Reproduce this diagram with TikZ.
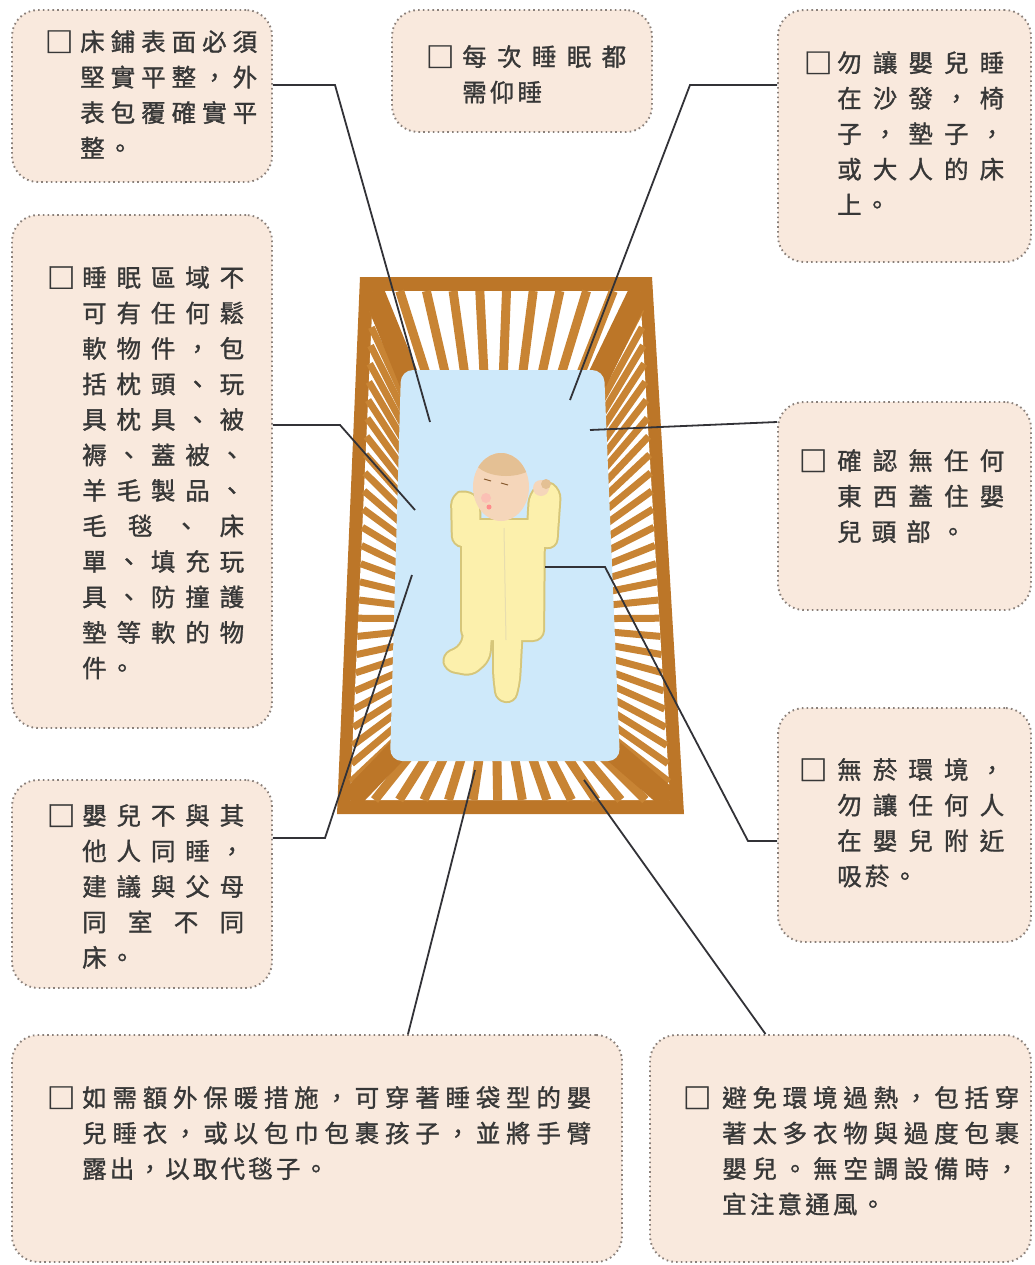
\documentclass[tikz,border=0pt]{standalone}
\usepackage{fontspec}
\usepackage{graphicx}
\newfontfamily\cjk[LetterSpace=13,FakeBold=1.2]{Noto Sans CJK TC}
\usetikzlibrary{calc}
\definecolor{wood}{RGB}{200,132,52}
\definecolor{rail}{RGB}{188,118,40}
\definecolor{sheet}{RGB}{206,233,250}
\definecolor{suit}{RGB}{252,240,172}
\definecolor{suitline}{RGB}{214,198,122}
\definecolor{skin}{RGB}{245,214,186}
\definecolor{hair}{RGB}{228,192,148}
\definecolor{peach}{RGB}{249,233,221}
\definecolor{dots}{RGB}{138,128,122}
\definecolor{ink}{RGB}{55,55,55}
\definecolor{leadc}{RGB}{50,50,55}
\newlength\jwidth
\newcommand\jl[2][\jwidth]{\makebox[#1][s]{#2}}
\newcommand\chkbox[1][7pt]{\llap{\raisebox{-1.5pt}{\scalebox{1.15}{□}}\hspace{#1}}}

\begin{document}
\begin{tikzpicture}[x=1pt,y=-1pt,
card/.style={draw=dots,dash pattern=on 1.6pt off 3.2pt,line width=1.9pt,fill=peach,rounded corners=26pt,inner sep=0pt},
txt/.style={font=\cjk\fontsize{24.5}{35.5}\selectfont,text=ink,align=left,inner sep=0pt,anchor=north west,execute at begin node={\global\jwidth=#1pt}},
lead/.style={draw=leadc,line width=1.8pt},
slat/.style={draw=wood,line width=9pt},
sideslat/.style={draw=wood,line width=7pt},
post/.style={draw=rail,line width=22pt},
suitedge/.style={draw=suitline,line width=4pt,fill=suitline},
suitfill/.style={fill=suit}]
\useasboundingbox (0,0) rectangle (1034,1265);
\fill[white] (0,0) rectangle (1034,1265);

\node[card,minimum width=260pt,minimum height=172pt] (flat) at (142,96) {};
\node[card,minimum width=260pt,minimum height=122pt] (back) at (522,71) {};
\node[card,minimum width=253pt,minimum height=252pt] (sofa) at (904.5,136) {};
\node[card,minimum width=260pt,minimum height=513pt] (soft) at (142,471.5) {};
\node[card,minimum width=253pt,minimum height=208pt] (face) at (904.5,506) {};
\node[card,minimum width=260pt,minimum height=208pt] (share) at (142,884) {};
\node[card,minimum width=253pt,minimum height=234pt] (smoke) at (904.5,825) {};
\node[card,minimum width=610pt,minimum height=227pt] (warm) at (317,1148.5) {};
\node[card,minimum width=381pt,minimum height=227pt] (heat) at (840.5,1148.5) {};

% crib
\fill[rail] (360,277) -- (652,277) -- (684,814) -- (337,814) -- cycle;
\fill[white] (373,291) -- (640,291) -- (670,800) -- (350,800) -- cycle;
\coordinate (ra) at (373,291);
\coordinate (rb) at (640,291);
\coordinate (rc) at (670,800);
\coordinate (rd) at (350,800);
\coordinate (fa) at (410,382);
\coordinate (fb) at (596,382);
\coordinate (fc) at (612,750);
\coordinate (fd) at (398,750);
\foreach \i in {1,...,9}
  \draw[slat] ($(ra)!\i/10!(rb)$) -- ($(fa)!\i/10!(fb)$);
\foreach \i in {1,...,27} {
  \draw[sideslat] ($(ra)!\i/28!(rd)$) -- ($(fa)!\i/28!(fd)$);
  \draw[sideslat] ($(rb)!\i/28!(rc)$) -- ($(fb)!\i/28!(fc)$);
}
\foreach \i in {1,...,12}
  \draw[slat] ($(rd)!\i/13!(rc)$) -- ($(fd)!\i/13!(fc)$);
\draw[post] (ra) -- (fa);
\draw[post] (rb) -- (fb);
\draw[post] (rc) -- (fc);
\draw[post] (rd) -- (fd);
\fill[sheet,rounded corners=12pt] (401,370) -- (604,370) -- (620,761) -- (390,761) -- cycle;

% baby
\foreach \s in {suitedge,suitfill} {
  \path[\s,rounded corners=10pt] (462,520) -- (544,520) -- (543,640) -- (462,640) -- cycle;
  \path[\s,rounded corners=9pt] (453,545) -- (452,496) -- (466,490) -- (479,500) -- (480,548) -- cycle;
  \path[\s,rounded corners=9pt] (527,545) -- (530,494) -- (545,480) -- (560,490) -- (556,548) -- cycle;
  \path[\s,rounded corners=8pt] (466,620) -- (492,624) -- (489,660) -- (472,675) -- (446,670) -- (443,655) -- (462,646) -- cycle;
  \path[\s,rounded corners=8pt] (494,625) -- (522,625) -- (519,682) -- (514,702) -- (497,700) -- (494,675) -- cycle;
}
\draw[suitline!60,line width=1pt] (504,528) -- (506,640);
\fill[skin] (501,487) ellipse (28pt and 34pt);
\begin{scope}
  \clip (501,487) ellipse (28pt and 34pt);
  \fill[hair] (506,456) ellipse (34pt and 20pt);
\end{scope}
\fill[skin] (541,488) circle (8pt);
\fill[hair] (546,484) circle (5pt);
\fill[red!30,opacity=.6] (486,498) circle (5pt);
\draw[brown!70!black,line width=1pt] (484,479) -- (491,481);
\draw[brown!70!black,line width=1pt] (501,483) -- (508,485);
\fill[red!45] (489,507) circle (2.5pt);

% leaders
\coordinate (k1) at (335,85);
\coordinate (p1) at (430,422);
\coordinate (k3) at (690,85);
\coordinate (p3) at (570,400);
\coordinate (p5) at (590,430);
\coordinate (k4) at (340,425);
\coordinate (p4) at (415,510);
\coordinate (k6) at (325,838);
\coordinate (p6) at (412,575);
\coordinate (k7) at (748,841);
\coordinate (j7) at (605,567);
\coordinate (p7) at (545,567);
\coordinate (p8) at (475,770);
\coordinate (p9) at (584,780);
\draw[lead] (flat.east |- k1) -- (k1) -- (p1);
\draw[lead] (sofa.west |- k3) -- (k3) -- (p3);
\draw[lead] ([yshift=84pt]face.west) -- (p5);
\draw[lead] (soft.east |- k4) -- (k4) -- (p4);
\draw[lead] (share.east |- k6) -- (k6) -- (p6);
\draw[lead] (smoke.west |- k7) -- (k7) -- (j7) -- (p7);
\draw[lead] ([xshift=91pt]warm.north) -- (p8);
\draw[lead] ([xshift=-75pt]heat.north) -- (p9);

\node[txt=177] (flattxt) at (80,30) {\chkbox\jl{床 鋪 表 面 必 須}\\
\jl{堅 實 平 整 ， 外}\\
\jl{表 包 覆 確 實 平}\\
整。};
\node[txt=164] (backtxt) at (462,45) {\chkbox[8pt]\jl{每 次 睡 眠 都}\\
需仰睡};
\node[txt=167] (sofatxt) at (837,51) {\chkbox[5pt]\jl{勿 讓 嬰 兒 睡}\\
\jl{在 沙 發 ， 椅}\\
\jl{子 ， 墊 子 ，}\\
\jl{或 大 人 的 床}\\
上。};
\node[txt=162] (softtxt) at (82,266) {\chkbox\jl{睡 眠 區 域 不}\\
\jl{可 有 任 何 鬆}\\
\jl{軟 物 件 ， 包}\\
\jl{括 枕 頭 、 玩}\\
\jl{具 枕 具 、 被}\\
\jl{褥 、 蓋 被 、}\\
\jl{羊 毛 製 品 、}\\
\jl{毛 毯 、 床}\\
\jl{單 、 填 充 玩}\\
\jl{具 、 防 撞 護}\\
\jl{墊 等 軟 的 物}\\
件。};
\node[txt=167] (facetxt) at (837,449) {\chkbox[10pt]\jl{確 認 無 任 何}\\
\jl{東 西 蓋 住 嬰}\\
\jl[128pt]{兒 頭 部 。}};
\node[txt=162] (sharetxt) at (82,804) {\chkbox\jl{嬰 兒 不 與 其}\\
\jl{他 人 同 睡 ，}\\
\jl{建 議 與 父 母}\\
\jl{同 室 不 同}\\
床。};
\node[txt=167] (smoketxt) at (837,758) {\chkbox[10pt]\jl{無 菸 環 境 ，}\\
\jl{勿 讓 任 何 人}\\
\jl{在 嬰 兒 附 近}\\
吸菸。};
\node[txt=494] (warmtxt) at (82,1086) {\chkbox\jl{如 需 額 外 保 暖 措 施 ， 可 穿 著 睡 袋 型 的 嬰}\\
\jl{兒 睡 衣 ， 或 以 包 巾 包 裹 孩 子 ， 並 將 手 臂}\\
露出，以取代毯子。};
\node[txt=294] (heattxt) at (722,1086) {\chkbox[11pt]\jl{避 免 環 境 過 熱 ， 包 括 穿}\\
\jl{著 太 多 衣 物 與 過 度 包 裹}\\
\jl{嬰 兒 。 無 空 調 設 備 時 ，}\\
宜注意通風。};
\end{tikzpicture}
\end{document}
